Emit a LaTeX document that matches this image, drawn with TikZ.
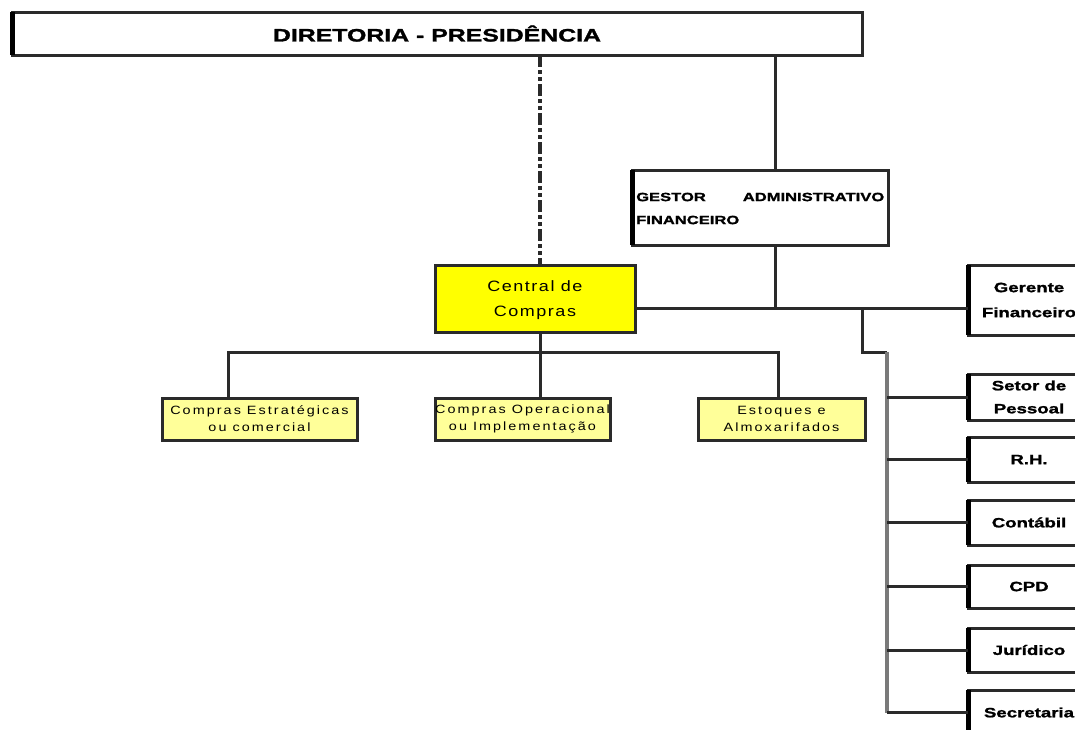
\documentclass[tikz,border=0pt]{standalone}
\usepackage{fontspec}
\setmainfont{Liberation Sans}
\newfontfamily\spaced[FakeStretch=1.2, LetterSpace=17]{Liberation Sans}
\newfontfamily\centfont[FakeStretch=1.2, LetterSpace=10]{Liberation Sans}
\newfontfamily\heavy[FakeStretch=1.38, FakeBold=1.5]{Liberation Sans Bold}
\usetikzlibrary{calc}
\definecolor{lineg}{HTML}{2A2A2A}
\definecolor{graybar}{HTML}{7A7A7A}
\definecolor{yel}{HTML}{FFFF00}
\definecolor{lyel}{HTML}{FFFF99}
\tikzset{
  conn/.style={draw=lineg, line width=3pt},
  bx/.style={draw=lineg, line width=3pt, inner sep=0pt, outer sep=0pt},
  subbox/.style={bx, fill=lyel, minimum height=42pt, align=center, font=\spaced\fontsize{12}{17}\selectfont},
  rbox/.style={bx, minimum width=122pt, align=center, font=\heavy\fontsize{13.5}{23}\selectfont},
  thickleft/.style={draw=black, line width=5pt}
}
\begin{document}
\begin{tikzpicture}[x=1pt,y=-1pt]
\clip (0,0) rectangle (1075,729);
\fill[white] (0,0) rectangle (1075,729);
% top
\node[bx, minimum width=850pt, minimum height=43pt, font=\heavy\fontsize{18}{20}\selectfont] (top) at (437,33.5) {DIRETORIA - PRESIDÊNCIA};
\draw[thickleft] (top.south west) -- (top.north west);
% gestor
\node[bx, minimum width=256pt, minimum height=75pt] (gest) at (760,207.5) {};
\node[anchor=west, text width=248pt, align=left, inner sep=0pt, font=\heavy\fontsize{12}{23}\selectfont] (gestt) at (636,208.5) {GESTOR \hfill ADMINISTRATIVO\\FINANCEIRO};
\draw[thickleft] (gest.south west) -- (gest.north west);
% central
\node[bx, fill=yel, minimum width=200pt, minimum height=67pt, align=center, font=\centfont\fontsize{15}{25}\selectfont, text depth=0pt] (cent) at (535,298.5) {Central de\\Compras};
% sub boxes
\node[subbox, minimum width=195pt] (ce) at (259.5,419) {Compras Estratégicas\\ou comercial};
\node[subbox, minimum width=175pt] (co) at (522.5,419) {Compras Operacional\\ou Implementação};
\node[subbox, minimum width=167pt] (est) at (781.5,419) {Estoques e\\Almoxarifados};
% right boxes
\node[rbox, minimum height=70pt, font=\heavy\fontsize{13.5}{25}\selectfont] (ger) at (1029,300) {Gerente\\Financeiro};
\node[rbox, minimum height=46pt] (sp) at (1029,397) {Setor de\\Pessoal};
\node[rbox, minimum height=45pt] (rh) at (1029,459.5) {R.H.};
\node[rbox, minimum height=45pt] (cont) at (1029,522.5) {Contábil};
\node[rbox, minimum height=43pt] (cpd) at (1029,586.5) {CPD};
\node[rbox, minimum height=44pt] (jur) at (1029,650) {Jurídico};
\node[rbox, minimum height=45pt] (sec) at (1029,712.5) {Secretaria};
\foreach \n in {ger,sp,rh,cont,cpd,jur,sec}{\draw[thickleft] (\n.south west) -- (\n.north west);}
% coordinates
\coordinate (dtop) at (540,55);
\coordinate (dbot) at (540,265);
\coordinate (gtop) at (775,55);
\coordinate (gin) at (775,170);
\coordinate (gout) at (775,245);
\coordinate (gj) at (775,308);
\coordinate (cr) at (635,308);
\coordinate (gl) at (968,308);
\coordinate (b1) at (862,308);
\coordinate (b2) at (862,352);
\coordinate (b3) at (887,352);
\coordinate (b4) at (887,712.5);
\coordinate (cb) at (540,332);
\coordinate (cj) at (540,352);
\coordinate (hl) at (228,352);
\coordinate (hr) at (778,352);
% connectors
\draw[draw=lineg, line width=4pt, dash pattern=on 12pt off 3pt on 4pt off 3pt on 4pt off 3pt] (dtop) -- (dbot);
\draw[conn] (gtop) -- (gin);
\draw[conn] (gout) -- (gj);
\draw[conn] (cr) -- (gl);
\draw[conn] (b1) -- (b2) -- (b3);
\draw[draw=graybar, line width=4pt] (b3) -- (b4);
\foreach \n in {sp,rh,cont,cpd,jur,sec}{\draw[conn] (b3 |- \n.west) -- (\n.west);}
\draw[conn] (cb) -- (cj);
\draw[conn] (hl |- ce.north) -- (hl) -- (hr) -- (hr |- est.north);
\draw[conn] (cj) -- (cj |- co.north);
\end{tikzpicture}
\end{document}
